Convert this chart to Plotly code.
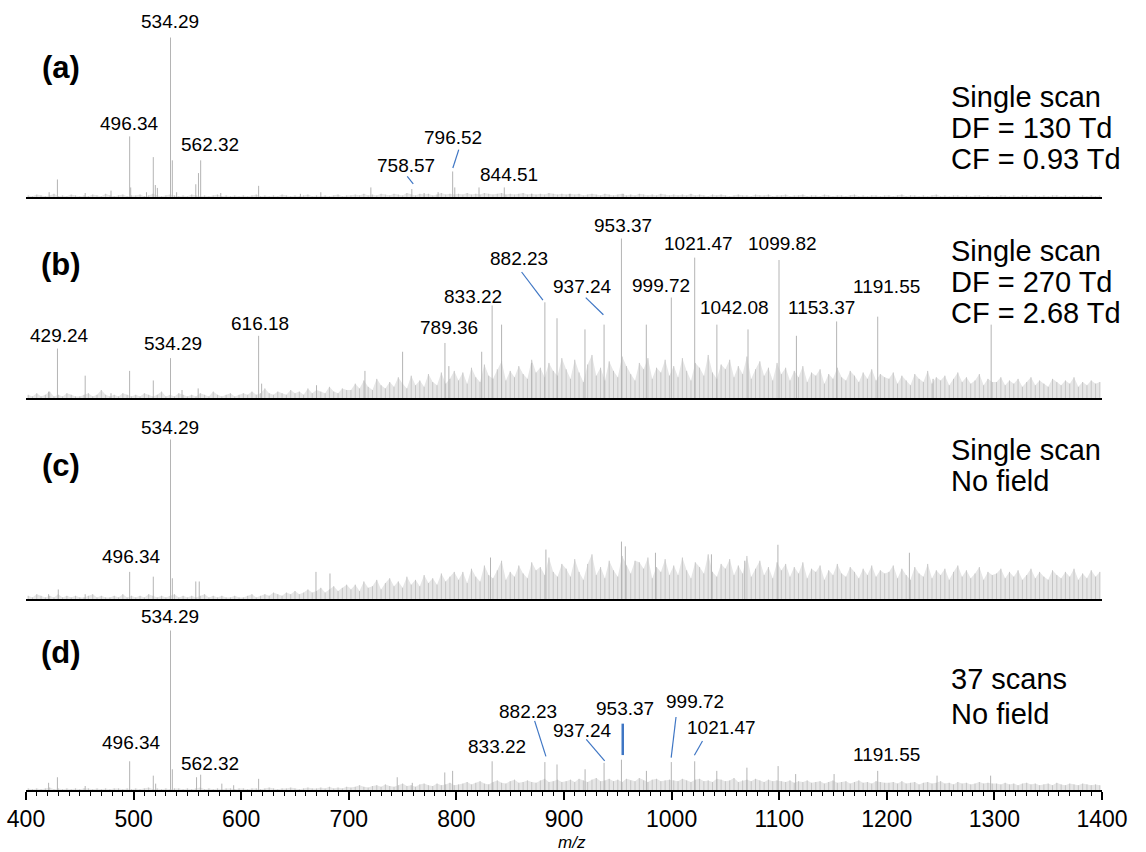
import plotly.graph_objects as go

# ---------------- data (relative intensity, % of panel base peak) ----------------
a_mz = [421.5, 429.2, 455, 479, 496.34, 497.3, 512, 518.3, 520.2, 522.1, 534.29, 536.0, 540,
        557.8, 560.3, 562.32, 581, 616.2, 655, 674, 720.5, 758.57, 770, 783, 796.52, 798.5,
        821, 844.51, 870, 905, 955]
a_int = [3, 11, 2.5, 4, 38, 6, 3, 25, 7.5, 5.7, 100, 23, 3,
         8, 15, 23, 2.5, 7, 2, 3, 6, 5, 2.5, 3, 16, 6,
         6, 6, 2, 2, 2]

b_mz = [421, 429.24, 455, 479, 496.3, 518.3, 534.29, 545, 560, 616.18, 619, 670, 715, 750,
        789.36, 793, 823.5, 833.22, 842, 870, 882.23, 893.5, 919.5, 937.24, 953.37, 976.5,
        999.72, 1021.47, 1042.08, 1071, 1099.82, 1116, 1153.37, 1191.55, 1243, 1297]
b_int = [4, 31, 14, 3, 17, 11, 25, 5, 6, 39, 9, 8, 17, 29,
         34.5, 20, 29, 58, 46, 22, 60, 50, 43, 46, 100, 46,
         63, 88, 46, 43, 86.5, 39, 48, 51, 12, 46]

c_mz = [421, 430, 455, 496.34, 518.3, 534.29, 536, 557.8, 561, 669.5, 682.5, 831.7, 883.2,
        953.4, 957, 985, 1037, 1068, 1098.8, 1221]
c_int = [3, 6, 3, 17, 14, 100, 13, 11, 11, 17, 16, 26, 31,
         36, 33, 29, 28, 24, 34, 29]

d_mz = [421, 429.2, 455, 496.34, 518.3, 520.5, 534.29, 536, 558.5, 562.32, 582, 593, 616.2,
        745, 759, 789.2, 796.5, 833.22, 882.23, 893.5, 919.6, 937.24, 953.37, 976.6, 999.72,
        1021.47, 1042, 1070, 1099, 1115.3, 1151, 1191.55, 1246.7, 1296.5]
d_int = [4.5, 8, 2.5, 18, 9, 4, 100, 13, 8, 9.6, 4, 3, 7,
         8, 4.5, 11, 12, 18, 17.5, 16, 13, 17, 19, 12, 17.5,
         18, 12, 14, 15, 10, 10, 12, 9, 9]

# baseline "grass", one value per 4 m/z from 402
a_noise = [1,0.5,1.5,1,0.5,1,2,0.5,1,0.5,1.5,1,0.5,1,0.5,1.5,1,0.5,2,1,0.5,1,1.5,0.5,1,
           1,1.5,0.5,1,2,1,0.5,1,1.5,1,0.5,1,0.5,1.5,1,0.5,1,0.5,1,1.5,0.5,1,0.5,1,0.5,
           1,0.5,1,1.5,0.5,1,0.5,1,0.5,1.5,1,0.5,1,0.5,1,1.5,0.5,1,0.5,1,0.5,1,1.5,0.5,1,
           1,1.5,1,2,1,1.5,1,2,1.5,1,2,1.5,1,2.5,1.5,1,2,1.5,2,1,1.5,2.5,1.5,2,1.5,
           2,1.5,2.5,1.5,2,1.5,2.5,2,1.5,2,2.5,1.5,2,1.5,2,2.5,1.5,2,1.5,2,1.5,2.5,2,1.5,2,
           1.5,2,1.5,2,1,1.5,2,1.5,1,2,1.5,1,1.5,2,1,1.5,1,2,1.5,1,1.5,1,2,1.5,1,
           1.5,1,1.5,1,2,1,1.5,1,0.5,1.5,1,1.5,1,0.5,1,1.5,1,1,0.5,1.5,1,1,1.5,0.5,1,
           1,1.5,0.5,1,1,1.5,0.5,1,1,0.5,1.5,1,0.5,1,1,0.5,1,1.5,0.5,1,0.5,1,1,0.5,1,
           1,0.5,1,1.5,0.5,1,1,0.5,1,0.5,1,1.5,0.5,1,0.5,1,1,0.5,1,0.5,1,1,0.5,1,0.5,
           0.5,1,1,0.5,1,0.5,1,1,0.5,1,0.5,1,0.5,1,1,0.5,1,0.5,1,0.5,1,0.5,1,0.5,1]
b_noise = [2,1,3,1,2,4,1,2,1,3,2,1,1,2,3,1,2,5,2,1,2,1,3,2,1,
           2,1,3,2,1,2,4,1,2,1,3,2,1,2,1,3,2,1,4,2,1,2,3,1,2,
           3,2,4,2,3,6,3,2,4,3,2,5,3,4,2,6,3,5,4,3,7,4,3,6,5,
           5,9,6,11,7,5,12,8,6,10,7,13,9,6,14,8,11,7,15,10,8,16,9,12,17,
           11,16,9,19,13,10,21,14,12,18,23,11,17,13,20,15,12,24,16,19,13,22,17,14,25,
           18,12,24,16,10,21,27,14,19,11,23,17,13,26,20,15,11,22,18,25,12,19,16,24,14,
           20,13,25,17,11,22,19,14,27,16,12,21,18,24,13,20,15,26,12,18,23,14,19,11,22,
           15,19,11,17,13,20,10,16,14,18,9,15,12,19,13,11,17,14,10,16,12,18,11,15,13,
           12,16,9,14,11,8,15,12,10,17,9,13,11,14,8,12,16,10,13,9,11,15,8,12,10,
           10,13,8,11,9,12,7,10,13,8,11,9,7,12,10,8,11,9,13,7,10,8,11,9,10]
c_noise = [2,1,3,2,1,2,1,3,1,2,1,2,1,1,2,3,1,2,1,1,2,1,3,1,2,
           1,2,1,3,2,1,2,1,2,3,1,2,1,2,1,2,3,1,2,1,2,1,1,2,1,
           1,2,3,1,2,3,2,4,3,2,4,3,5,3,4,6,4,5,7,4,6,8,5,7,9,
           6,9,5,11,7,8,12,6,10,13,8,11,7,14,9,12,8,15,10,13,9,16,11,14,17,
           12,17,10,19,14,11,21,15,13,18,24,12,17,14,21,16,13,23,18,20,15,26,17,14,22,
           19,14,25,17,12,22,28,15,20,13,24,18,14,27,21,16,24,23,19,26,13,20,17,25,15,
           21,15,26,18,13,23,20,16,28,17,14,22,19,25,15,21,16,27,14,19,24,15,20,13,23,
           18,22,14,20,16,23,13,19,17,21,12,18,15,22,16,14,20,17,13,19,15,21,14,18,16,
           17,21,13,19,15,12,20,16,14,22,13,18,15,19,12,17,21,14,18,13,16,20,12,17,15,
           16,19,13,17,14,18,12,15,19,13,17,14,12,18,15,13,17,14,19,12,16,13,18,14,17]
d_noise = [1,0.5,1,0.5,1,1.5,0.5,1,0.5,1,0.5,1,0.5,1,1,0.5,1,0.5,1,0.5,1,1,0.5,1,0.5,
           1,0.5,1,1.5,0.5,1,0.5,1,0.5,1,1,0.5,1,0.5,1,1.5,0.5,1,0.5,1,0.5,1,1,0.5,1,
           1,0.5,1,1,0.5,1,1.5,1,0.5,1,1,1.5,1,0.5,1,1.5,1,1,1.5,1,2,1,1.5,1,2,
           1.5,2,3,2,1.5,2.5,3,2,3.5,2.5,2,3,4,2.5,3,2,3.5,4,3,2.5,4,3,3.5,4.5,3,
           3.5,4,5,3.5,4.5,5.5,4,3.5,5,6,4.5,4,5.5,6.5,4.5,5,6,5,4.5,6,7,5,5.5,6.5,5,
           5.5,6.5,5,7,6,5,6.5,7.5,5.5,6,7,5.5,6.5,5,7,6,5.5,7.5,6,5,6.5,7,5.5,6,6.5,
           6,5.5,7,6,5,6.5,7,5.5,6,5,7,6.5,5.5,6,7.5,5,6,6.5,5.5,7,6,5,6.5,5.5,6,
           5.5,5,6,4.5,5.5,5,6,4.5,5,5.5,4,5,6,4.5,5,5.5,4,5,6,4.5,5,4,5.5,5,4.5,
           4.5,5,4,5.5,4,4.5,5,3.5,4.5,5,4,4.5,5.5,4,4.5,3.5,5,4,4.5,3.5,4,5,4,4.5,4,
           4,3.5,4.5,3.5,4,3,4,4.5,3.5,4,3,3.5,4,3,4.5,3.5,3,4,3.5,3,4,3.5,3,3.5,3]

a_labels = [534.29, 496.34, 562.32, 758.57, 796.52, 844.51]
b_labels = [429.24, 534.29, 616.18, 789.36, 833.22, 882.23, 937.24, 953.37, 999.72,
            1021.47, 1099.82, 1042.08, 1153.37, 1191.55]
c_labels = [534.29, 496.34]
d_labels = [534.29, 496.34, 562.32, 833.22, 882.23, 937.24, 953.37, 999.72, 1021.47, 1191.55]

a_text = ["Single scan", "DF = 130 Td", "CF = 0.93 Td"]
b_text = ["Single scan", "DF = 270 Td", "CF = 2.68 Td"]
c_text = ["Single scan", "No field"]
d_text = ["37 scans", "No field"]

# ---------------- layout / placement (positions in m/z, % units) ----------------
FONT = "Liberation Sans, Arial, Helvetica, sans-serif"
STICK = "#b4b4b4"
GRASS_STICK = "#c6c6c6"
GRASS_FILL = "#e6e6e6"
BLUE = "#3f76c4"
PX_PER_UNIT = 1.595
PLOT_H = 790  # pixels of plotting region (top margin 0)

panels = [
    dict(key="a", mz=a_mz, it=a_int, noise=a_noise, labels=a_labels, text=a_text,
         base=197, top=0, tag="(a)", tag_y=80.9, text_y=[62.7, 43.3, 23.8],
         lab_pos={534.29: (533.8, 110.2), 496.34: (496.0, 45.8), 562.32: (570.9, 33.2),
                  758.57: (753.6, 19.9), 796.52: (797.1, 37.6), 844.51: (849.0, 14.4)},
         leaders=[(754.3, 13.0, 759.9, 8.2, 1.2), (802.2, 29.7, 796.7, 18.2, 1.2)]),
    dict(key="b", mz=b_mz, it=b_int, noise=b_noise, labels=b_labels, text=b_text,
         base=398, top=199, tag="(b)", tag_y=83.4, text_y=[92.2, 72.7, 53.3],
         lab_pos={429.24: (430.9, 39.3), 534.29: (536.5, 34.0), 616.18: (617.8, 46.6),
                  789.36: (793.0, 44.5), 833.22: (815.2, 63.9), 882.23: (858.2, 87.3),
                  937.24: (917.1, 69.6), 953.37: (954.5, 108.3), 999.72: (990.1, 70.7),
                  1021.47: (1025.3, 96.7), 1099.82: (1102.8, 96.7), 1042.08: (1058.7, 56.6),
                  1153.37: (1138.9, 56.6), 1191.55: (1199.7, 69.6)},
         leaders=[(860.6, 79.0, 880.4, 61.3, 1.2), (920.2, 62.9, 936.6, 52.2, 1.2)]),
    dict(key="c", mz=c_mz, it=c_int, noise=c_noise, labels=c_labels, text=c_text,
         base=599, top=400, tag="(c)", tag_y=84.0, text_y=[93.4, 74.0],
         lab_pos={534.29: (533.8, 107.8), 496.34: (497.8, 26.8)},
         leaders=[]),
    dict(key="d", mz=d_mz, it=d_int, noise=d_noise, labels=d_labels, text=d_text,
         base=790, top=601, tag="(d)", tag_y=86.5, text_y=[69.6, 47.6],
         lab_pos={534.29: (533.8, 108.5), 496.34: (497.8, 29.7), 562.32: (570.9, 16.5),
                  833.22: (837.4, 27.4), 882.23: (866.7, 49.3), 937.24: (917.1, 37.4),
                  953.37: (956.7, 51.0), 999.72: (1021.9, 55.2), 1021.47: (1046.6, 39.1),
                  1191.55: (1199.7, 22.1)},
         leaders=[(872.7, 43.3, 883.2, 21.1, 1.2), (920.7, 31.8, 937.8, 18.2, 1.2),
                  (954.6, 41.6, 954.6, 21.9, 2.5), (1004.1, 45.8, 999.6, 20.3, 1.2),
                  (1028.7, 30.7, 1021.2, 21.8, 1.2)]),
]

fig = go.Figure()
annotations = []
shapes = []
layout_axes = {}

for i, p in enumerate(panels, start=1):
    sfx = "" if i == 1 else str(i)
    xa, ya = "x" + sfx, "y" + sfx
    # grass: light fill + vertical strokes
    gx = [402 + 4 * k for k in range(len(p["noise"]))]
    fig.add_trace(go.Scatter(x=gx, y=p["noise"], mode="lines", fill="tozeroy",
                             line=dict(color=GRASS_FILL, width=0), fillcolor=GRASS_FILL,
                             xaxis=xa, yaxis=ya, hoverinfo="skip", showlegend=False))
    nx, ny = [], []
    for m, h in zip(gx, p["noise"]):
        nx += [m, m, None]
        ny += [0, h, None]
    fig.add_trace(go.Scatter(x=nx, y=ny, mode="lines", line=dict(color=GRASS_STICK, width=1),
                             xaxis=xa, yaxis=ya, hoverinfo="skip", showlegend=False))
    # peaks
    sx, sy = [], []
    for m, h in zip(p["mz"], p["it"]):
        sx += [m, m, None]
        sy += [0, h, None]
    fig.add_trace(go.Scatter(x=sx, y=sy, mode="lines", line=dict(color=STICK, width=1),
                             xaxis=xa, yaxis=ya, hoverinfo="skip", showlegend=False))

    dom = [(PLOT_H - p["base"]) / PLOT_H, (PLOT_H - p["top"]) / PLOT_H]
    yrange = [0, (p["base"] - p["top"]) / PX_PER_UNIT]
    layout_axes["yaxis" + sfx] = dict(domain=dom, range=yrange, visible=False,
                                      anchor=xa, fixedrange=True)
    common = dict(range=[400, 1400], anchor=ya, showline=True, linecolor="black",
                  linewidth=1.6, showgrid=False, zeroline=False)
    if p["key"] == "d":
        layout_axes["xaxis" + sfx] = dict(
            **common, ticks="outside", ticklen=8, tickwidth=1.5, tickcolor="black",
            tick0=400, dtick=100, tickfont=dict(family=FONT, size=23, color="black"),
            minor=dict(ticks="outside", ticklen=4.5, tickwidth=1, tickcolor="black",
                       dtick=10, tick0=400, showgrid=False))
    else:
        layout_axes["xaxis" + sfx] = dict(**common, ticks="", showticklabels=False,
                                          matches="x4")

    for lab in p["labels"]:
        lx, ly = p["lab_pos"][lab]
        annotations.append(dict(x=lx, y=ly, xref=xa, yref=ya, text=f"{lab:.2f}",
                                showarrow=False, xanchor="center", yanchor="middle",
                                font=dict(family=FONT, size=19, color="black")))
    for (x0, y0, x1, y1, w) in p["leaders"]:
        shapes.append(dict(type="line", x0=x0, y0=y0, x1=x1, y1=y1, xref=xa, yref=ya,
                           line=dict(color=BLUE, width=w)))
    annotations.append(dict(x=(61 - 26) / 1076, y=p["tag_y"], xref="paper", yref=ya,
                            text="<b>" + p["tag"] + "</b>", showarrow=False,
                            xanchor="center", yanchor="middle",
                            font=dict(family=FONT, size=31, color="black")))
    for t, ty in zip(p["text"], p["text_y"]):
        annotations.append(dict(x=1258, y=ty, xref=xa, yref=ya, text=t, showarrow=False,
                                xanchor="left", yanchor="middle",
                                font=dict(family=FONT, size=29, color="black")))

# axis title as annotation below tick labels
annotations.append(dict(x=0.507, y=(PLOT_H - 842.5) / PLOT_H, xref="paper", yref="paper",
                        text="<i>m/z</i>", showarrow=False, xanchor="center",
                        yanchor="middle", borderpad=0,
                        font=dict(family=FONT, size=17, color="black")))

fig.update_layout(
    width=1146, height=852,
    margin=dict(l=26, r=44, t=0, b=852 - PLOT_H, pad=0),
    paper_bgcolor="white", plot_bgcolor="white",
    font=dict(family=FONT, color="black"),
    annotations=annotations, shapes=shapes, showlegend=False,
    **layout_axes,
)

fig.write_html("out.html")
